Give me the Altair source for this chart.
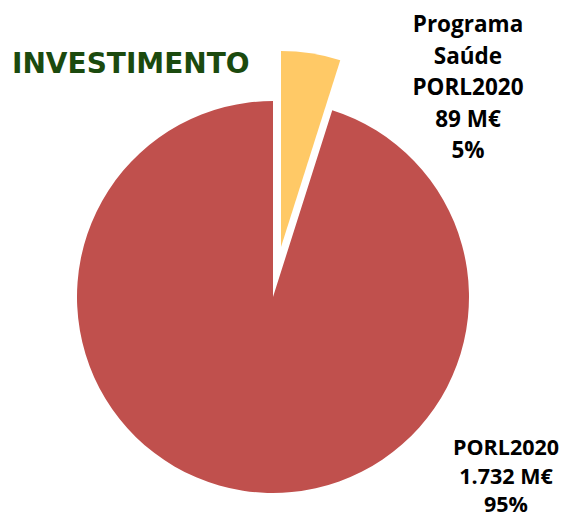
import altair as alt
import pandas as pd

# Data
categories = ["Programa Saúde PORL2020", "PORL2020"]
values = [89, 1732]
order = [0, 1]
colors = ["#FFC966", "#C0504D"]
value_labels = ["89 M€", "1.732 M€"]
pct_labels = ["5%", "95%"]
name_labels = ["Programa\nSaúde\nPORL2020", "PORL2020"]
title_text = "INVESTIMENTO"

total = sum(values)

df = pd.DataFrame({"category": categories, "value": values, "order": order})

W, H = 551, 509
CX, CY = 265, 289
R = 196

base = (
    alt.Chart(df)
    .transform_window(cum="sum(value)", sort=[{"field": "order"}])
    .transform_calculate(start="datum.cum - datum.value")
)

theta = alt.Theta("start:Q", scale=alt.Scale(domain=[0, total]))
theta2 = alt.Theta2("cum:Q")
color = alt.Color(
    "category:N",
    scale=alt.Scale(domain=categories, range=colors),
    legend=None,
)

main_slice = (
    base.transform_filter(alt.datum.order == 1)
    .mark_arc(outerRadius=R)
    .encode(theta=theta, theta2=theta2, color=color,
            x=alt.value(CX), y=alt.value(CY))
)

exploded_slice = (
    base.transform_filter(alt.datum.order == 0)
    .mark_arc(outerRadius=R, xOffset=8, yOffset=-50)
    .encode(theta=theta, theta2=theta2, color=color,
            x=alt.value(CX), y=alt.value(CY))
)

lbl_df = pd.DataFrame({
    "text": [f"{n}\n{v}\n{p}" for n, v, p in zip(name_labels, value_labels, pct_labels)],
    "order": order,
})

label_small = (
    alt.Chart(lbl_df).transform_filter(alt.datum.order == 0)
    .mark_text(font="Open Sans", fontWeight="bold", fontSize=22.5, align="center",
               baseline="alphabetic", lineBreak="\n", lineHeight=31.5, color="black")
    .encode(text="text:N", x=alt.value(460), y=alt.value(24))
)
label_big = (
    alt.Chart(lbl_df).transform_filter(alt.datum.order == 1)
    .mark_text(font="Open Sans", fontWeight="bold", fontSize=21.5, align="center",
               baseline="alphabetic", lineBreak="\n", lineHeight=28.5, color="black")
    .encode(text="text:N", x=alt.value(498), y=alt.value(447))
)

title = (
    alt.Chart(pd.DataFrame({"t": [title_text]}))
    .mark_text(font="DejaVu Sans", fontWeight="bold", fontSize=28, align="left",
               baseline="alphabetic", color="#1B4A0E")
    .encode(text="t:N", x=alt.value(4), y=alt.value(65))
)

chart = (
    alt.layer(main_slice, exploded_slice, label_small, label_big, title)
    .properties(width=W, height=H, padding=0, autosize="none")
    .configure_view(stroke=None)
)

chart.save("out.html", embed_options={"renderer": "svg", "actions": False})
